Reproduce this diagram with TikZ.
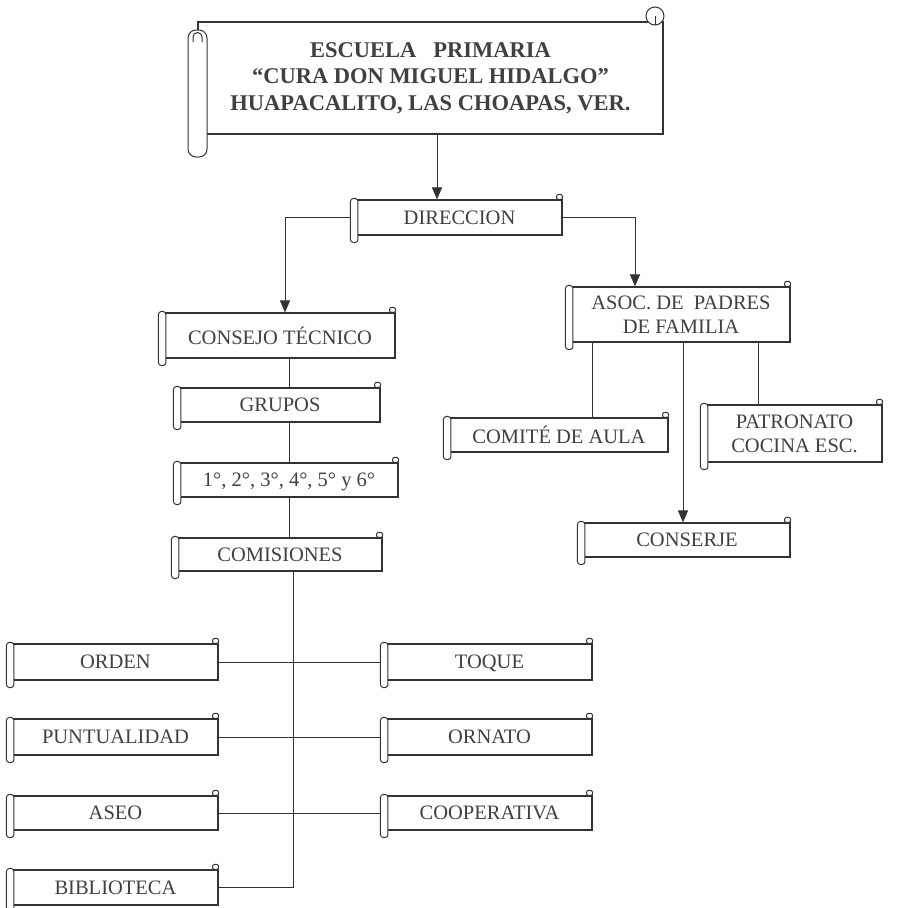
\documentclass[tikz,border=0pt]{standalone}
\usepackage{fontspec}
\setmainfont{Liberation Serif}
\usetikzlibrary{arrows.meta}

\tikzset{
  caja/.style={draw=black!80, fill=white, line width=1.1pt, rectangle, inner sep=2pt,
    align=center, text=black!75, font=\fontsize{20.5}{24}\selectfont},
  rollo/.style={draw=black!80, fill=white, line width=1pt},
  linea/.style={draw=black!80, line width=1pt},
  flecha/.style={-{Triangle[length=12pt,width=10pt]}},
}

\begin{document}
\begin{tikzpicture}[x=1pt, y=-1pt]
\useasboundingbox (0,0) rectangle (911,908);

% Title banner
\node[caja, minimum width=465pt, minimum height=112pt,
      font=\bfseries\fontsize{22.5}{26.5}\selectfont] (titulo) at (430.5,78)
  {ESCUELA~~~PRIMARIA\\“CURA DON MIGUEL HIDALGO”\\HUAPACALITO, LAS CHOAPAS, VER.};

% Direction and its two branches
\node[caja, minimum width=205pt, minimum height=35pt] (dir) at (459.5,217.5) {DIRECCION};
\node[caja, minimum width=230pt, minimum height=45pt, text depth=0pt] (consejo) at (280,335.5) {CONSEJO TÉCNICO};
\node[caja, minimum width=200pt, minimum height=34pt] (grupos) at (280,405) {GRUPOS};
\node[caja, minimum width=218pt, minimum height=34pt, text depth=0pt] (grados) at (289,480) {1°, 2°, 3°, 4°, 5° y 6°};
\node[caja, minimum width=204pt, minimum height=33pt] (comisiones) at (280,554.5) {COMISIONES};

\node[caja, minimum width=218pt, minimum height=55pt] (asoc) at (681,314.5) {ASOC. DE~~PADRES\\DE FAMILIA};
\node[caja, minimum width=218pt, minimum height=34pt] (comite) at (559,435) {COMITÉ DE AULA};
\node[caja, minimum width=175pt, minimum height=57pt] (patronato) at (794.5,433.5) {PATRONATO\\COCINA ESC.};
\node[caja, minimum width=206pt, minimum height=34pt, text depth=0pt] (conserje) at (687,540) {CONSERJE};

% Commissions, left column
\node[caja, minimum width=205pt, minimum height=36pt] (orden) at (115.5,662) {ORDEN};
\node[caja, minimum width=205pt, minimum height=36pt] (puntualidad) at (115.5,737) {PUNTUALIDAD};
\node[caja, minimum width=205pt, minimum height=34pt] (aseo) at (115.5,813) {ASEO};
\node[caja, minimum width=205pt, minimum height=35pt] (biblioteca) at (115.5,887.5) {BIBLIOTECA};

% Commissions, right column
\node[caja, minimum width=205pt, minimum height=36pt, text depth=0pt] (toque) at (489.5,662) {TOQUE};
\node[caja, minimum width=205pt, minimum height=36pt] (ornato) at (489.5,737) {ORNATO};
\node[caja, minimum width=205pt, minimum height=34pt] (cooperativa) at (489.5,813) {COOPERATIVA};

% Arrows from the top
\path ([xshift=6.5pt]titulo.south) coordinate (t1);
\draw[linea, flecha] (t1) -- (t1 |- dir.north);
\draw[linea, flecha] (dir.west) -| ([xshift=5pt]consejo.north);
\draw[linea, flecha] (dir.east) -| ([xshift=-46pt]asoc.north);

% Parents' association branches
\path ([xshift=33pt]comite.north) coordinate (c1);
\draw[linea] (c1 |- asoc.south) -- (c1);
\path ([xshift=-4pt]conserje.north) coordinate (c2);
\draw[linea, flecha] (c2 |- asoc.south) -- (c2);
\path ([xshift=-36pt]patronato.north) coordinate (c3);
\draw[linea] (c3 |- asoc.south) -- (c3);

% Vertical chain under the council
\foreach \a/\b in {consejo/grupos, grupos/grados, grados/comisiones}
  \draw[linea] (grados.center |- \a.south) -- (grados.center |- \b.north);

% Commissions axis
\path ([xshift=13pt]comisiones.south) coordinate (eje);
\draw[linea] (eje) -- (eje |- biblioteca.east) -- (biblioteca.east);
\foreach \a/\b in {orden/toque, puntualidad/ornato, aseo/cooperativa}
  \draw[linea] (\a.east) -- (\b.west);

% Scroll rolls on every small box
\foreach \n in {dir,consejo,grupos,grados,comisiones,asoc,comite,patronato,conserje,
                orden,puntualidad,aseo,biblioteca,toque,ornato,cooperativa}{
  \draw[rollo, rounded corners=3pt] ([shift={(-6pt,1pt)}]\n.north west) rectangle ([shift={(1.5pt,-7pt)}]\n.south west);
  \draw[rollo, rounded corners=2pt] ([xshift=-6pt]\n.north east) rectangle ([yshift=5pt]\n.north east);
}

% Rolls of the title banner
\draw[rollo, rounded corners=8pt] (188,30) rectangle (207,157);
\draw[linea] (193,42) -- (193,37) arc (180:360:4.5) -- (202,42);
\draw[rollo] (655,16) circle (9pt);
\draw[linea] (655,16) -- (655,25);

\end{tikzpicture}
\end{document}
